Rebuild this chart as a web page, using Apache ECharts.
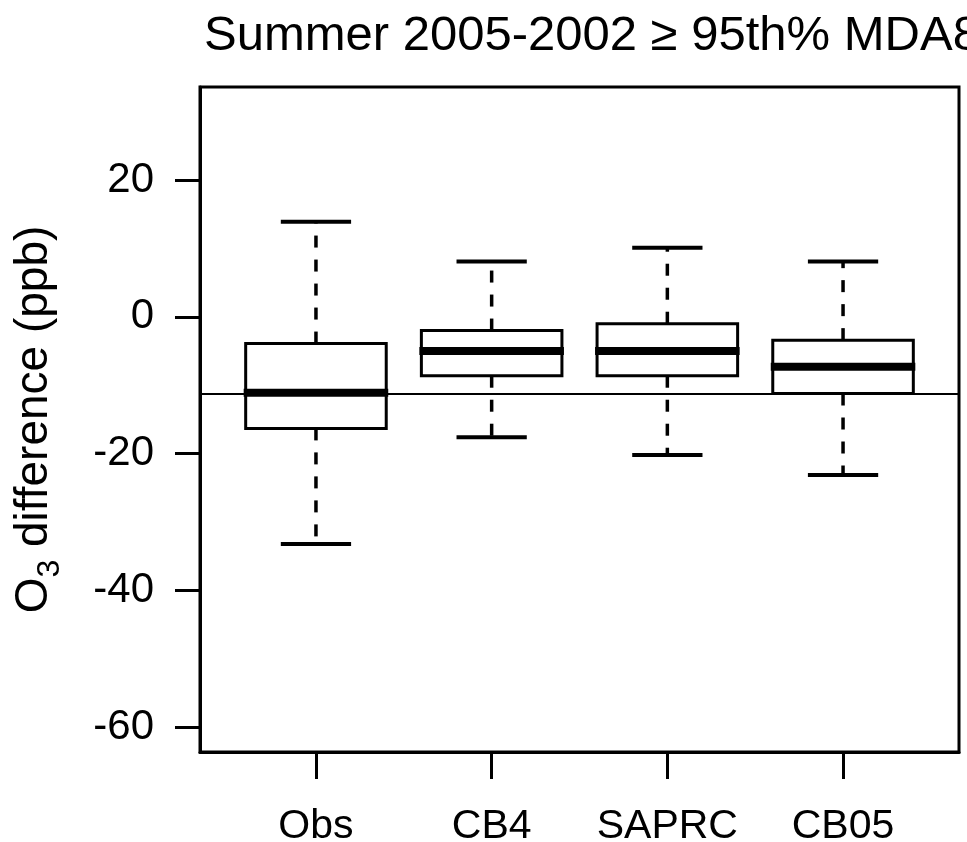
<!DOCTYPE html>
<html lang="en">
<head>
<meta charset="UTF-8">
<title>Summer 2005-2002 ≥ 95th% MDA8</title>
<script src="https://cdn.jsdelivr.net/npm/echarts@6/dist/echarts.min.js"></script>
<style>
  html, body { margin: 0; padding: 0; background: #fff; }
  #chart { width: 967px; height: 842px; }
</style>
</head>
<body>
<div id="chart"></div>
<script>
// box statistics (ppb)
const categories = ['Obs', 'CB4', 'SAPRC', 'CB05'];
const whiskerLow = [-33.2, -17.6, -20.2, -23.1];
const lowerQuartile = [-16.3, -8.6, -8.6, -11.2];
const medians = [-11.1, -5.0, -5.0, -7.3];
const upperQuartile = [-3.9, -2.0, -1.0, -3.4];
const whiskerHigh = [13.9, 8.1, 10.1, 8.1];
const referenceLine = -11.2;
const yTicks = [-60, -40, -20, 0, 20];
const xTicks = [1, 2, 3, 4];

const FONT = "'Liberation Sans', Arial, sans-serif";

// [x, low, q1, median, q3, high]
const boxData = categories.map((c, i) => [
  i + 1, whiskerLow[i], lowerQuartile[i], medians[i], upperQuartile[i], whiskerHigh[i]
]);

function renderBox(params, api) {
  const x = api.value(0);
  const lo = api.coord([x, api.value(1)]);
  const q1 = api.coord([x, api.value(2)]);
  const md = api.coord([x, api.value(3)]);
  const q3 = api.coord([x, api.value(4)]);
  const hi = api.coord([x, api.value(5)]);
  const boxW = api.size([0.8, 0])[0];
  const capW = boxW / 2;
  const cx = md[0];
  const dash = { stroke: '#000', lineWidth: 3.5, lineDash: [12, 12] };
  const solid = { stroke: '#000', lineWidth: 4 };
  return {
    type: 'group',
    children: [
      { type: 'line', shape: { x1: cx, y1: q3[1], x2: cx, y2: hi[1] }, style: dash },
      { type: 'line', shape: { x1: cx, y1: q1[1], x2: cx, y2: lo[1] }, style: dash },
      { type: 'line', shape: { x1: cx - capW / 2, y1: hi[1], x2: cx + capW / 2, y2: hi[1] }, style: solid },
      { type: 'line', shape: { x1: cx - capW / 2, y1: lo[1], x2: cx + capW / 2, y2: lo[1] }, style: solid },
      { type: 'rect', shape: { x: cx - boxW / 2, y: q3[1], width: boxW, height: q1[1] - q3[1] },
        style: { fill: '#fff', stroke: '#000', lineWidth: 3 } },
      { type: 'line', shape: { x1: cx - boxW / 2 - 2, y1: md[1], x2: cx + boxW / 2 + 2, y2: md[1] },
        style: { stroke: '#000', lineWidth: 8 } }
    ]
  };
}

const chart = echarts.init(document.getElementById('chart'), null, { renderer: 'canvas' });
chart.setOption({
  animation: false,
  backgroundColor: '#fff',
  title: {
    text: 'Summer 2005-2002 \u2265 95th% MDA8',
    left: 199,
    top: 7,
    textStyle: { fontFamily: FONT, fontSize: 49, fontWeight: 'normal', color: '#000' }
  },
  grid: {
    left: 200, right: 8, top: 87, bottom: 90,
    outerBoundsMode: 'none',
    containLabel: false,
    show: true, borderColor: '#000', borderWidth: 3, backgroundColor: 'transparent'
  },
  xAxis: {
    type: 'value',
    min: 0.34,
    max: 4.66,
    splitLine: { show: false },
    axisLine: { show: true, onZero: false, lineStyle: { color: '#000', width: 3 } },
    axisTick: { show: true, length: 27, customValues: xTicks, lineStyle: { color: '#000', width: 3 } },
    axisLabel: {
      customValues: xTicks,
      formatter: v => categories[Math.round(v) - 1] || '',
      margin: 54,
      fontFamily: FONT, fontSize: 41, color: '#000'
    }
  },
  yAxis: {
    type: 'value',
    min: -63.6,
    max: 33.6,
    splitLine: { show: false },
    axisLine: { show: true, onZero: false, lineStyle: { color: '#000', width: 3 } },
    axisTick: { show: true, length: 25, customValues: yTicks, lineStyle: { color: '#000', width: 3 } },
    axisLabel: {
      customValues: yTicks,
      margin: 46,
      fontFamily: FONT, fontSize: 42, color: '#000'
    },
    name: '{a|O}{s|3}{a| difference (ppb)}',
    nameLocation: 'middle',
    nameRotate: 90,
    nameGap: 134,
    nameTextStyle: {
      fontFamily: FONT, color: '#000',
      rich: {
        a: { fontFamily: FONT, fontSize: 46, lineHeight: 64, verticalAlign: 'middle', color: '#000' },
        s: { fontFamily: FONT, fontSize: 32, lineHeight: 64, verticalAlign: 'bottom', color: '#000' }
      }
    }
  },
  series: [{
    type: 'custom',
    renderItem: renderBox,
    encode: { x: 0, y: [1, 2, 3, 4, 5] },
    data: boxData,
    silent: true,
    markLine: {
      silent: true,
      symbol: 'none',
      label: { show: false },
      lineStyle: { color: '#000', width: 2, type: 'solid' },
      data: [{ yAxis: referenceLine }]
    },
    z: 2
  }]
});
</script>
</body>
</html>
